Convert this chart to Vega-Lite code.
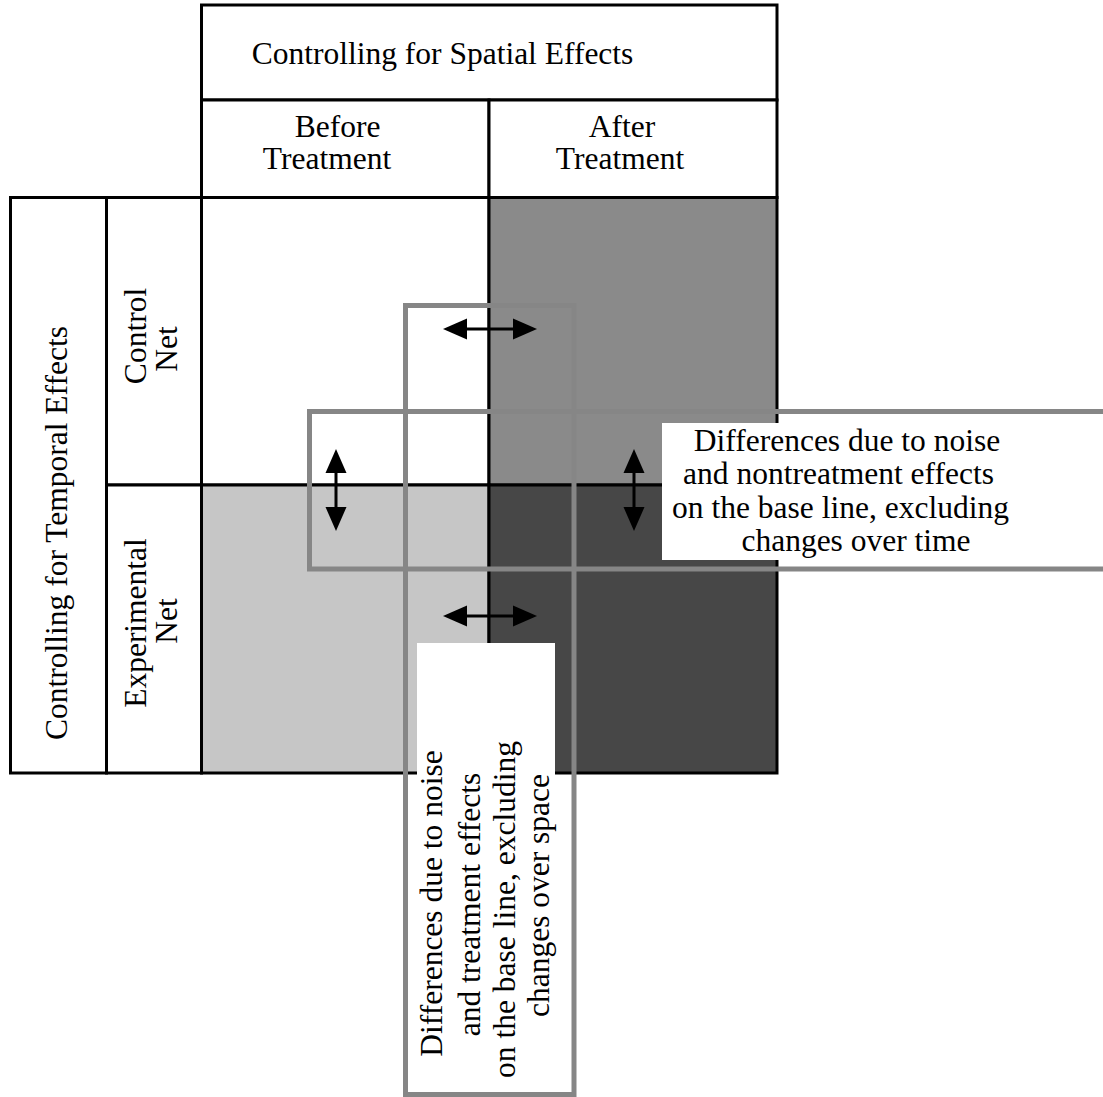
{
  "$schema": "https://vega.github.io/schema/vega-lite/v6.json",
  "width": 1103,
  "height": 1097,
  "autosize": {"type": "fit", "contains": "padding"},
  "padding": 0,
  "background": "white",
  "config": {"view": {"stroke": null}, "font": "Liberation Serif"},
  "datasets": {
    "cells": [
      {"part": "Controlling for Spatial Effects", "kind": "label", "x1": 201.5, "x2": 777, "y1": 5, "y2": 100},
      {"part": "Before Treatment", "kind": "label", "x1": 201.5, "x2": 489, "y1": 100, "y2": 197.5},
      {"part": "After Treatment", "kind": "label", "x1": 489, "x2": 777, "y1": 100, "y2": 197.5},
      {"part": "Controlling for Temporal Effects", "kind": "label", "x1": 10.5, "x2": 106.5, "y1": 197.5, "y2": 773},
      {"part": "Control Net", "kind": "label", "x1": 106.5, "x2": 201.5, "y1": 197.5, "y2": 485},
      {"part": "Experimental Net", "kind": "label", "x1": 106.5, "x2": 201.5, "y1": 485, "y2": 773},
      {"part": "Control Net, Before", "kind": "control-before", "x1": 201.5, "x2": 489, "y1": 197.5, "y2": 485},
      {"part": "Control Net, After", "kind": "control-after", "x1": 489, "x2": 777, "y1": 197.5, "y2": 485},
      {"part": "Experimental Net, Before", "kind": "experimental-before", "x1": 201.5, "x2": 489, "y1": 485, "y2": 773},
      {"part": "Experimental Net, After", "kind": "experimental-after", "x1": 489, "x2": 777, "y1": 485, "y2": 773}
    ],
    "frames": [
      {"frame": "spatial comparison", "x1": 309.5, "x2": 1120, "y1": 411.5, "y2": 569},
      {"frame": "temporal comparison", "x1": 405.5, "x2": 574, "y1": 305.5, "y2": 1094.5}
    ],
    "shafts": [
      {"arrow": "top horizontal", "x1": 458, "x2": 522, "y1": 329, "y2": 329},
      {"arrow": "bottom horizontal", "x1": 458, "x2": 522, "y1": 616, "y2": 616},
      {"arrow": "left vertical", "x1": 336, "x2": 336, "y1": 464, "y2": 516},
      {"arrow": "right vertical", "x1": 634, "x2": 634, "y1": 464, "y2": 516}
    ],
    "heads": [
      {"arrow": "top horizontal", "dir": "left", "x": 443, "y": 329},
      {"arrow": "top horizontal", "dir": "right", "x": 537, "y": 329},
      {"arrow": "bottom horizontal", "dir": "left", "x": 443, "y": 616},
      {"arrow": "bottom horizontal", "dir": "right", "x": 537, "y": 616},
      {"arrow": "left vertical", "dir": "up", "x": 336, "y": 449},
      {"arrow": "left vertical", "dir": "down", "x": 336, "y": 531},
      {"arrow": "right vertical", "dir": "up", "x": 634, "y": 449},
      {"arrow": "right vertical", "dir": "down", "x": 634, "y": 531}
    ],
    "boxes": [
      {"box": "spatial note", "x1": 662, "x2": 1103, "y1": 423, "y2": 560},
      {"box": "temporal note", "x1": 417, "x2": 555, "y1": 643, "y2": 1082}
    ],
    "flatText": [
      {"text": "Controlling for Spatial Effects", "x": 442.5, "y": 55},
      {"text": "Before", "x": 337.5, "y": 128},
      {"text": "Treatment", "x": 327, "y": 160},
      {"text": "After", "x": 622, "y": 128},
      {"text": "Treatment", "x": 620, "y": 160},
      {"text": "Differences due to noise", "x": 847, "y": 441.5},
      {"text": "and nontreatment effects", "x": 838.5, "y": 475},
      {"text": "on the base line, excluding", "x": 840.5, "y": 508.5},
      {"text": "changes over time", "x": 856, "y": 542}
    ],
    "upText": [
      {"text": "Controlling for Temporal Effects", "x": 58, "y": 533},
      {"text": "Control", "x": 137, "y": 336},
      {"text": "Net", "x": 168, "y": 349},
      {"text": "Experimental", "x": 137, "y": 623},
      {"text": "Net", "x": 168, "y": 621},
      {"text": "Differences due to noise", "x": 432.5, "y": 903.5},
      {"text": "and treatment effects", "x": 471, "y": 904.5},
      {"text": "on the base line, excluding", "x": 506, "y": 909.5},
      {"text": "changes over space", "x": 540, "y": 895.5}
    ]
  },
  "layer": [
    {
      "data": {"name": "cells"},
      "mark": {"type": "rect", "stroke": "black", "strokeWidth": 3},
      "encoding": {
        "x": {"field": "x1", "type": "quantitative", "axis": null, "scale": {"domain": [0, 1103], "nice": false, "zero": false}},
        "x2": {"field": "x2"},
        "y": {"field": "y1", "type": "quantitative", "axis": null, "scale": {"domain": [0, 1097], "nice": false, "zero": false, "reverse": true}},
        "y2": {"field": "y2"},
        "fill": {
          "field": "kind", "type": "nominal", "legend": null,
          "scale": {
            "domain": ["label", "control-before", "control-after", "experimental-before", "experimental-after"],
            "range": ["#ffffff", "#ffffff", "#8a8a8a", "#c6c6c6", "#474747"]
          }
        }
      }
    },
    {
      "data": {"name": "frames"},
      "mark": {"type": "rect", "filled": false, "stroke": "#868686", "strokeWidth": 5, "clip": true},
      "encoding": {
        "x": {"field": "x1", "type": "quantitative"},
        "x2": {"field": "x2"},
        "y": {"field": "y1", "type": "quantitative"},
        "y2": {"field": "y2"}
      }
    },
    {
      "data": {"name": "shafts"},
      "mark": {"type": "rule", "color": "black", "strokeWidth": 3},
      "encoding": {
        "x": {"field": "x1", "type": "quantitative"},
        "x2": {"field": "x2"},
        "y": {"field": "y1", "type": "quantitative"},
        "y2": {"field": "y2"}
      }
    },
    {
      "data": {"name": "heads"},
      "mark": {"type": "point", "filled": true, "color": "black", "opacity": 1, "size": 576, "strokeWidth": 0},
      "encoding": {
        "x": {"field": "x", "type": "quantitative"},
        "y": {"field": "y", "type": "quantitative"},
        "shape": {
          "field": "dir", "type": "nominal", "legend": null,
          "scale": {
            "domain": ["left", "right", "up", "down"],
            "range": ["M0,0L2,-0.875L2,0.875Z", "M0,0L-2,-0.875L-2,0.875Z", "M0,0L-0.875,2L0.875,2Z", "M0,0L-0.875,-2L0.875,-2Z"]
          }
        }
      }
    },
    {
      "data": {"name": "boxes"},
      "mark": {"type": "rect", "fill": "white", "strokeWidth": 0},
      "encoding": {
        "x": {"field": "x1", "type": "quantitative"},
        "x2": {"field": "x2"},
        "y": {"field": "y1", "type": "quantitative"},
        "y2": {"field": "y2"}
      }
    },
    {
      "data": {"name": "flatText"},
      "mark": {"type": "text", "font": "Liberation Serif", "fontSize": 31.5, "color": "black", "align": "center", "baseline": "middle"},
      "encoding": {
        "x": {"field": "x", "type": "quantitative"},
        "y": {"field": "y", "type": "quantitative"},
        "text": {"field": "text"}
      }
    },
    {
      "data": {"name": "upText"},
      "mark": {"type": "text", "font": "Liberation Serif", "fontSize": 31.5, "color": "black", "align": "center", "baseline": "middle", "angle": 270},
      "encoding": {
        "x": {"field": "x", "type": "quantitative"},
        "y": {"field": "y", "type": "quantitative"},
        "text": {"field": "text"}
      }
    }
  ]
}
